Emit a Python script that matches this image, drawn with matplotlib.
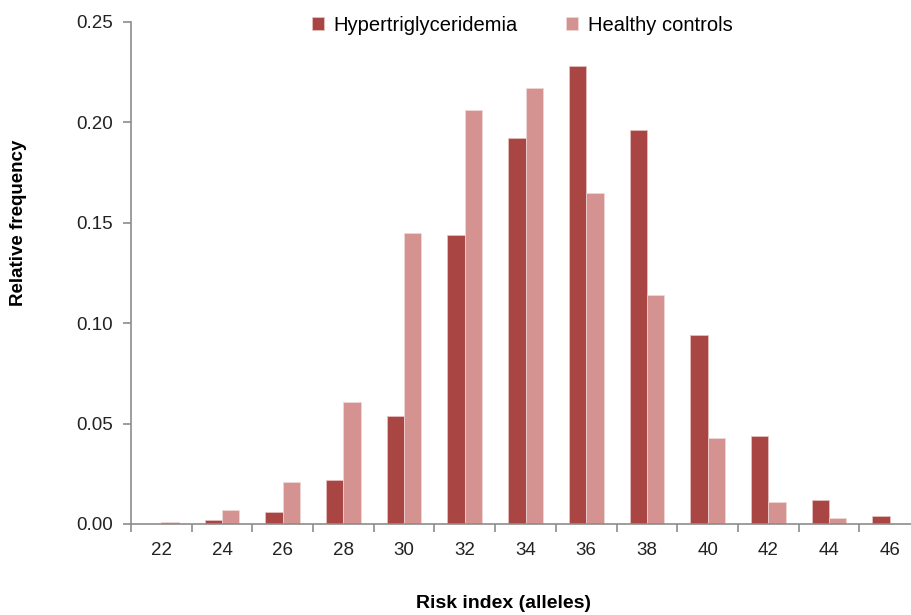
import matplotlib
matplotlib.use('Agg')
import matplotlib.pyplot as plt
import numpy as np

# risk index categories and relative frequencies
risk_index = ['22', '24', '26', '28', '30', '32', '34', '36', '38', '40', '42', '44', '46']
hypertg = [0.000, 0.002, 0.006, 0.022, 0.054, 0.144, 0.192, 0.228, 0.196, 0.094, 0.044, 0.012, 0.004]
controls = [0.001, 0.007, 0.021, 0.061, 0.145, 0.206, 0.217, 0.165, 0.114, 0.043, 0.011, 0.003, 0.000]

dark_red = '#A94543'
light_red = '#D49290'
axis_grey = '#8C8C8C'

plt.rcParams['font.family'] = ['Liberation Sans', 'DejaVu Sans']

fig = plt.figure(figsize=(9.12, 6.15), dpi=100)
ax = fig.add_axes([131 / 912, 1 - 524 / 615, 789 / 912, 502 / 615])

x = np.arange(len(risk_index))
w = 1 / 3.5  # excel gap width 150%
ax.bar(x - w / 2, hypertg, width=w, color=dark_red, edgecolor='#E6C4C3', linewidth=0.5,
       label='Hypertriglyceridemia')
ax.bar(x + w / 2, controls, width=w, color=light_red, edgecolor='#F0D8D7', linewidth=0.5,
       label='Healthy controls')

ax.set_xlim(-0.5, len(risk_index) - 0.5)
ax.set_ylim(0, 0.25)
ax.set_yticks([0.0, 0.05, 0.10, 0.15, 0.20, 0.25])
ax.set_yticklabels(['0.00', '0.05', '0.10', '0.15', '0.20', '0.25'])
ax.set_xticks(x)
ax.set_xticklabels(risk_index)
# tick marks sit between categories like in excel
ax.set_xticks(np.arange(-0.5, len(risk_index), 1), minor=True)
ax.tick_params(axis='x', which='major', length=0, pad=13, labelsize=13.5, labelcolor='#222222')
ax.tick_params(axis='x', which='minor', length=6, width=1.2, color=axis_grey, direction='out')
ax.tick_params(axis='y', length=6, width=1.2, color=axis_grey, pad=7, labelsize=13.5,
               labelcolor='#222222')

for s in ['top', 'right']:
    ax.spines[s].set_visible(False)
for s in ['left', 'bottom']:
    ax.spines[s].set_color(axis_grey)
    ax.spines[s].set_linewidth(1.2)

ax.set_xlabel('Risk index (alleles)', fontsize=14, fontweight='bold')
ax.xaxis.set_label_coords(0.472, -0.141)
ax.set_ylabel('Relative frequency', fontsize=13.5, fontweight='bold')
ax.yaxis.set_label_coords(-0.132, 0.6)

ax.legend(loc='center', bbox_to_anchor=(0.496, 0.994), ncol=2, frameon=False, fontsize=14.5,
          handlelength=0.6, handleheight=0.6, handletextpad=0.5, columnspacing=2.4)

fig.savefig('out.png', dpi=100)
